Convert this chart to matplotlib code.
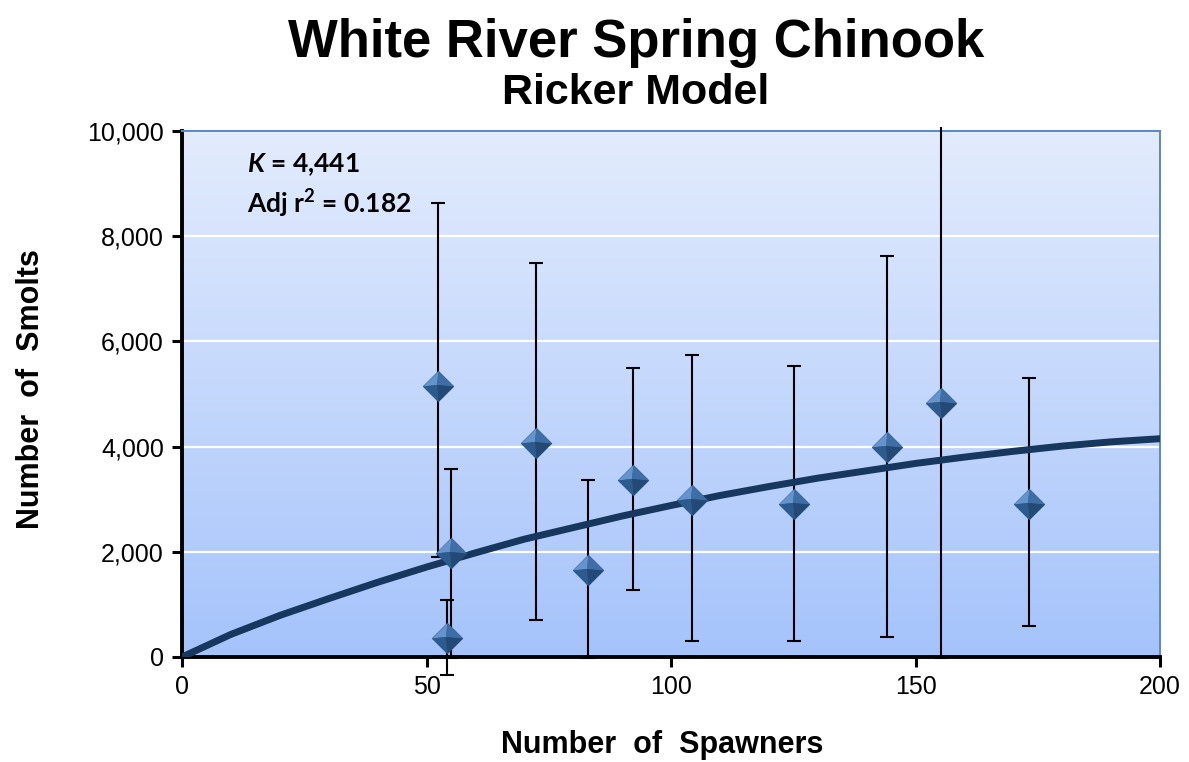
import numpy as np
import matplotlib
matplotlib.use("Agg")
import matplotlib.pyplot as plt
from matplotlib.colors import LinearSegmentedColormap
from matplotlib.path import Path
from matplotlib.transforms import Bbox, TransformedBbox
from matplotlib.ticker import FuncFormatter

plt.rcParams['font.family'] = ['Liberation Sans', 'DejaVu Sans']
plt.rcParams['mathtext.fontset'] = 'custom'
plt.rcParams['mathtext.rm'] = 'Lato:bold'
plt.rcParams['mathtext.it'] = 'Lato:italic:bold'
plt.rcParams['mathtext.bf'] = 'Lato:bold'

# observed spawner / smolt pairs with error bar limits
spawners = [52.3, 55.0, 54.2, 72.3, 83.1, 92.2, 104.2, 125.1, 144.2, 155.3, 173.3]
smolts = [5150, 1975, 370, 4065, 1645, 3370, 2985, 2910, 3990, 4830, 2915]
smolts_hi = [8630, 3575, 1090, 7490, 3370, 5490, 5750, 5540, 7615, 11500, 5305]
smolts_lo = [1900, -10, -340, 695, -20, 1270, 295, 295, 375, -10, 595]

# fitted Ricker curve
curve_s = [0, 10, 20, 30, 40, 50, 60, 70, 80, 90, 100, 110, 120, 130, 140,
           150, 160, 170, 180, 190, 200]
curve_r = [0, 430, 790, 1110, 1420, 1710, 1980, 2240, 2460, 2680, 2880, 3070,
           3240, 3400, 3540, 3680, 3800, 3910, 4010, 4090, 4150]

x_ticks = [0, 50, 100, 150, 200]
y_ticks = [0, 2000, 4000, 6000, 8000, 10000]

fig = plt.figure(figsize=(11.89, 7.62), dpi=100)
ax = fig.add_axes([0.1531, 0.1378, 0.8225, 0.6903])

# gradient plot area
bg = LinearSegmentedColormap.from_list("bg", ["#a5c3fb", "#e3ecfd"])
grad = np.linspace(0, 1, 256).reshape(-1, 1)
ax.imshow(grad, cmap=bg, origin='lower', aspect='auto', extent=[0, 1, 0, 1],
          transform=ax.transAxes, zorder=0)

ax.set_xlim(0, 200)
ax.set_ylim(0, 10000)
ax.set_xticks(x_ticks)
ax.set_yticks(y_ticks)
ax.yaxis.set_major_formatter(FuncFormatter(lambda v, p: f"{int(v):,}"))
ax.grid(axis='y', color='white', lw=1.6, zorder=0.5)
ax.set_axisbelow(True)

ax.tick_params(axis='both', direction='out', length=7, width=2.2,
               labelsize=18, pad=6)

for s in ['left', 'bottom']:
    ax.spines[s].set_linewidth(2.8)
    ax.spines[s].set_color('black')
for s in ['top', 'right']:
    ax.spines[s].set_linewidth(1.4)
    ax.spines[s].set_color('#5b87c8')

# error bars, clipped a little outside the plot area like the original
yerr = [np.array(smolts) - np.array(smolts_lo), np.array(smolts_hi) - np.array(smolts)]
eb = ax.errorbar(spawners, smolts, yerr=yerr, fmt='none', ecolor='black',
                 elinewidth=1.5, capsize=5, capthick=1.5, zorder=3)
clip = TransformedBbox(Bbox([[0, -0.06], [1, 1.008]]), ax.transAxes)
for art in list(eb[1]) + list(eb[2]):
    art.set_clip_box(clip)

ax.plot(curve_s, curve_r, color='#17375e', lw=5, solid_capstyle='round', zorder=4)

# pyramid-like diamond markers
diamond = Path([(0, 1), (1, 0), (0, -1), (-1, 0), (0, 1)])
facets = [
    (Path([(0, 1), (-1, 0), (-0.1, 0.1), (0, 1)]), '#6593cc'),
    (Path([(0, 1), (1, 0), (-0.1, 0.1), (0, 1)]), '#3f6ea6'),
    (Path([(-1, 0), (0, -1), (-0.1, 0.1), (-1, 0)]), '#2e5b8e'),
    (Path([(1, 0), (0, -1), (-0.1, 0.1), (1, 0)]), '#234a77'),
]
ax.plot(spawners, smolts, ls='none', marker=diamond, ms=22,
        mfc='#2e5b8e', mec='#2a5280', mew=0.5, zorder=5)
for path, col in facets:
    # make each facet span the full diamond extent so sizes line up
    verts = np.vstack([path.vertices, [[0, -1], [0, 1], [-1, 0], [1, 0]]])
    codes = [Path.MOVETO] + [Path.LINETO] * (len(path.vertices) - 2) + [Path.CLOSEPOLY] \
        + [Path.MOVETO, Path.MOVETO, Path.MOVETO, Path.MOVETO]
    ax.plot(spawners, smolts, ls='none', marker=Path(verts, codes), ms=22,
            mfc=col, mec='none', zorder=6)

ax.text(0.066, 0.922, r'$K$ = 4,441', transform=ax.transAxes,
        fontsize=19, family='Lato', fontweight='bold', va='baseline', zorder=7)
ax.text(0.066, 0.843, r'Adj r$^2$ = 0.182', transform=ax.transAxes,
        fontsize=19, family='Lato', fontweight='bold', va='baseline', zorder=7)

fig.text(0.535, 0.925, 'White River Spring Chinook', ha='center', va='baseline',
         fontsize=38, fontweight='bold')
fig.text(0.535, 0.864, 'Ricker Model', ha='center', va='baseline',
         fontsize=31, fontweight='bold')

fig.text(0.557, 0.022, 'Number  of  Spawners', ha='center', va='center',
         fontsize=22, fontweight='bold')
fig.text(0.026, 0.49, 'Number  of  Smolts', ha='center', va='center',
         rotation=90, fontsize=22, fontweight='bold')

fig.savefig('out.png', dpi=100)
